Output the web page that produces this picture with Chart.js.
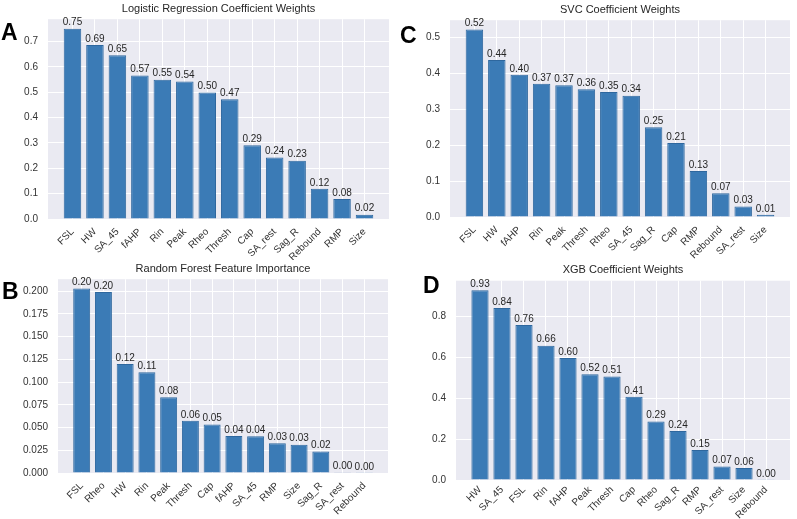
<!DOCTYPE html>
<html>
<head>
<meta charset="utf-8">
<script src="https://cdn.jsdelivr.net/npm/chart.js@4.4.1/dist/chart.umd.min.js"></script>
<style>
  html, body { margin: 0; padding: 0; background: #fff; }
  #fig { position: relative; width: 797px; height: 519px; overflow: hidden; }
  .panel { position: absolute; }
  .letter { position: absolute; font: bold 23px "Liberation Sans", Arial, sans-serif; line-height: 23px; color: #000; }
</style>
</head>
<body>
<div id="fig">
  <div class="panel" style="left:0;top:0;width:400px;height:260px"><canvas id="chartA" width="400" height="260"></canvas></div>
  <div class="panel" style="left:0;top:260px;width:400px;height:259px"><canvas id="chartB" width="400" height="259"></canvas></div>
  <div class="panel" style="left:400px;top:0;width:397px;height:260px"><canvas id="chartC" width="397" height="260"></canvas></div>
  <div class="panel" style="left:400px;top:260px;width:397px;height:259px"><canvas id="chartD" width="397" height="259"></canvas></div>
  <div class="letter" style="left:1px;top:21px">A</div>
  <div class="letter" style="left:2px;top:280px">B</div>
  <div class="letter" style="left:400px;top:24px">C</div>
  <div class="letter" style="left:423px;top:274px">D</div>
</div>
<script>
// panel A - logistic regression
var labelsA = ['FSL', 'HW', 'SA_45', 'fAHP', 'Rin', 'Peak', 'Rheo', 'Thresh', 'Cap', 'SA_rest', 'Sag_R', 'Rebound', 'RMP', 'Size']
var valuesA = [0.751, 0.687, 0.646, 0.566, 0.550, 0.543, 0.499, 0.473, 0.291, 0.243, 0.230, 0.119, 0.079, 0.017]
var yTicksA = [0, 0.1, 0.2, 0.3, 0.4, 0.5, 0.6, 0.7]

// panel B - random forest
var labelsB = ['FSL', 'Rheo', 'HW', 'Rin', 'Peak', 'Thresh', 'Cap', 'fAHP', 'SA_45', 'RMP', 'Size', 'Sag_R', 'SA_rest', 'Rebound']
var valuesB = [0.2030, 0.1991, 0.1200, 0.1107, 0.0833, 0.0574, 0.0533, 0.0407, 0.0404, 0.0326, 0.0311, 0.0237, 0.0004, 0.0002]
var yTicksB = [0, 0.025, 0.05, 0.075, 0.1, 0.125, 0.15, 0.175, 0.2]

// panel C - SVC
var labelsC = ['FSL', 'HW', 'fAHP', 'Rin', 'Peak', 'Thresh', 'Rheo', 'SA_45', 'Sag_R', 'Cap', 'RMP', 'Rebound', 'SA_rest', 'Size']
var valuesC = [0.522, 0.437, 0.396, 0.371, 0.367, 0.356, 0.348, 0.338, 0.250, 0.206, 0.128, 0.066, 0.029, 0.006]
var yTicksC = [0, 0.1, 0.2, 0.3, 0.4, 0.5]

// panel D - XGB
var labelsD = ['HW', 'SA_45', 'FSL', 'Rin', 'fAHP', 'Peak', 'Thresh', 'Cap', 'Rheo', 'Sag_R', 'RMP', 'SA_rest', 'Size', 'Rebound']
var valuesD = [0.927, 0.840, 0.757, 0.656, 0.596, 0.516, 0.506, 0.406, 0.286, 0.239, 0.146, 0.066, 0.058, 0.001]
var yTicksD = [0, 0.2, 0.4, 0.6, 0.8]

var FONT = '"Liberation Sans", Arial, sans-serif'
var BAR = '#3b7bb6'
var BAR_EDGE = '#2e679e'
var BG = '#eaeaf2'

// plot area background (seaborn darkgrid look)
var bgPlugin = {
    id: 'bg',
    beforeDraw: function(chart) {
        var a = chart.chartArea
        var ctx = chart.ctx
        ctx.save()
        ctx.fillStyle = BG
        ctx.fillRect(a.left, a.top, a.right - a.left, a.bottom - a.top)
        ctx.restore()
    }
}

// numbers above each bar
var valuePlugin = {
    id: 'vals',
    afterDatasetsDraw: function(chart) {
        var ctx = chart.ctx
        var meta = chart.getDatasetMeta(0)
        var data = chart.data.datasets[0].data
        ctx.save()
        ctx.font = '10px ' + FONT
        ctx.fillStyle = '#262626'
        ctx.textAlign = 'center'
        ctx.textBaseline = 'bottom'
        meta.data.forEach(function(bar, i) {
            ctx.fillText(data[i].y.toFixed(2), bar.x, bar.y - 1)
        })
        ctx.restore()
    }
}

function drawPanel(id, title, labels, values, yTicks, dec, geo) {
    var n = labels.length
    // matplotlib style margins: 5% on x, 5% above the tallest bar
    var span = (n - 1) + 0.8
    var xmin = -0.4 - 0.05 * span
    var xmax = (n - 1) + 0.4 + 0.05 * span
    var ymax = Math.max.apply(null, values) * 1.05

    var points = []
    for (var i = 0; i < n; i++) {
        points.push({x: i, y: values[i]})
    }

    var ctx = document.getElementById(id).getContext('2d')
    return new Chart(ctx, {
        type: 'bar',
        data: {
            datasets: [{
                data: points,
                backgroundColor: BAR,
                borderColor: BAR_EDGE,
                borderWidth: 1,
                categoryPercentage: 1,
                barPercentage: 0.78
            }]
        },
        plugins: [bgPlugin, valuePlugin],
        options: {
            responsive: false,
            animation: false,
            devicePixelRatio: 1,
            layout: { padding: { left: 0, right: geo.padR, top: 0, bottom: 0 } },
            plugins: {
                legend: { display: false },
                tooltip: { enabled: false },
                title: {
                    display: true,
                    text: title,
                    fullSize: false,
                    color: '#262626',
                    font: { size: 11, family: FONT, weight: 'normal' },
                    padding: { top: geo.tTop, bottom: geo.tBot }
                }
            },
            scales: {
                x: {
                    type: 'linear',
                    min: xmin,
                    max: xmax,
                    offset: false,
                    grid: { color: '#ffffff', lineWidth: 1, drawTicks: false, offset: false },
                    border: { display: false },
                    ticks: {
                        autoSkip: false,
                        minRotation: 45,
                        maxRotation: 45,
                        padding: geo.xPad,
                        color: '#333333',
                        font: { size: 10, family: FONT },
                        callback: function(v) { return labels[v] }
                    },
                    afterBuildTicks: function(s) {
                        s.ticks = labels.map(function(l, i) { return {value: i} })
                    },
                    afterFit: function(s) { s.height = geo.xH }
                },
                y: {
                    min: 0,
                    max: ymax,
                    grid: { color: '#ffffff', lineWidth: 1, drawTicks: false },
                    border: { display: false },
                    ticks: {
                        padding: 10,
                        color: '#333333',
                        font: { size: 10, family: FONT },
                        callback: function(v) { return v.toFixed(dec) }
                    },
                    afterBuildTicks: function(s) {
                        s.ticks = yTicks.map(function(v) { return {value: v} })
                    },
                    afterFit: function(s) { s.width = geo.yW }
                }
            }
        }
    })
}

drawPanel('chartA', 'Logistic Regression Coefficient Weights', labelsA, valuesA, yTicksA, 1,
    {yW: 48, padR: 11, xH: 41, xPad: 7, tTop: 2, tBot: 4})
drawPanel('chartB', 'Random Forest Feature Importance', labelsB, valuesB, yTicksB, 3,
    {yW: 58, padR: 12, xH: 46, xPad: 7, tTop: 2, tBot: 4})
drawPanel('chartC', 'SVC Coefficient Weights', labelsC, valuesC, yTicksC, 1,
    {yW: 50, padR: 7, xH: 43, xPad: 7, tTop: 3, tBot: 4})
drawPanel('chartD', 'XGB Coefficient Weights', labelsD, valuesD, yTicksD, 1,
    {yW: 56, padR: 7, xH: 39, xPad: 4, tTop: 3, tBot: 4.5})
</script>
</body>
</html>
